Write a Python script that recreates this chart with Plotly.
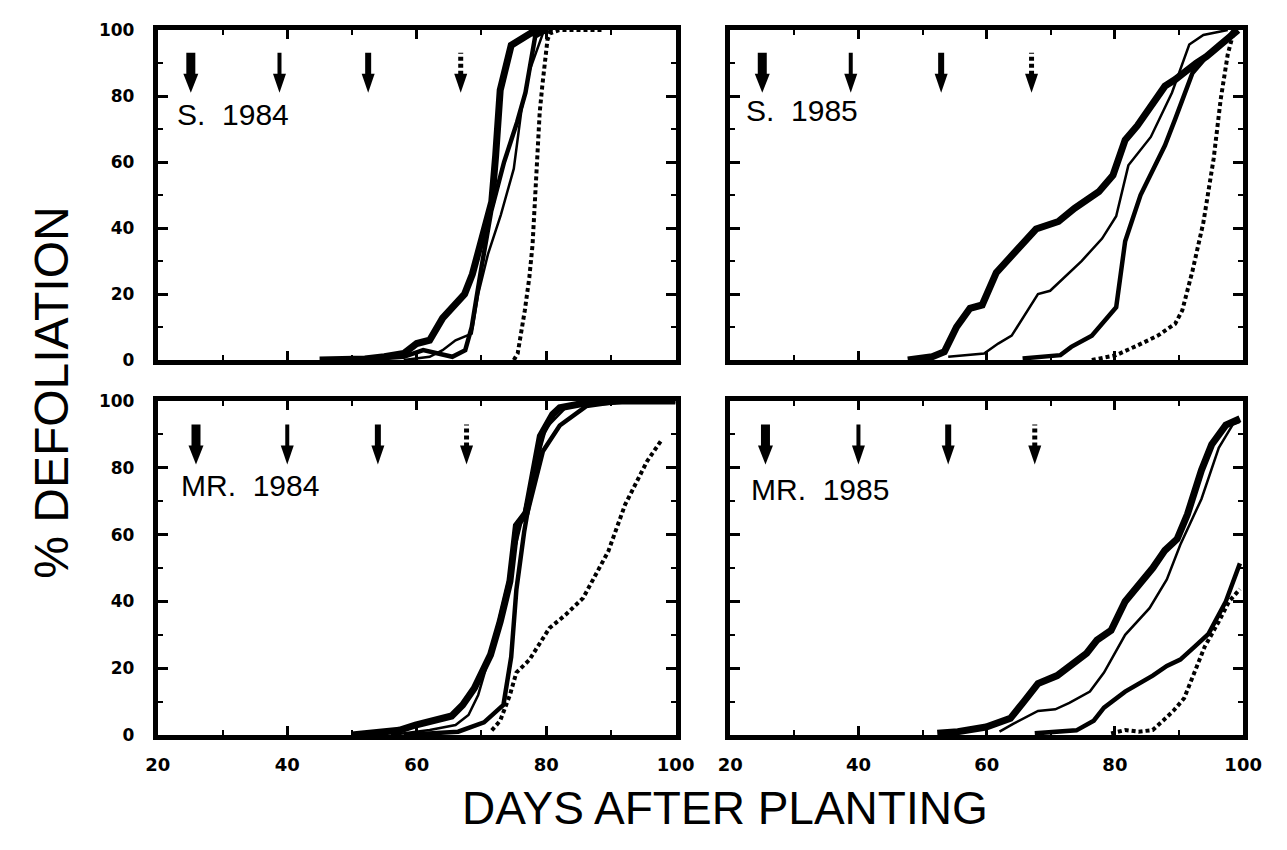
import plotly.graph_objects as go

# ---------------- data ----------------
# S. 1984
s84_thick_day = [45, 52, 55, 58, 60, 62, 64, 67.4, 68.6, 70, 71.6, 72.2, 72.9, 74.6, 77.6, 80]
s84_thick_val = [0, 0.3, 1, 2, 5, 6, 12.7, 20, 26, 36, 48, 62, 81.8, 95.4, 99, 100]
s84_med_day = [50, 58, 61, 63, 65.5, 67.5, 68.5, 70, 71.5, 73.5, 75.5, 76.8, 78.3, 80]
s84_med_val = [0, 1, 3, 2, 1, 3, 10, 28, 45, 60, 72, 81, 98, 100]
s84_thin_day = [58, 62, 64, 66, 68.5, 69.5, 71, 73, 75, 76.2, 77.5, 79.5, 81]
s84_thin_val = [0, 1, 3, 6, 8, 20, 32, 44, 58, 76, 88, 99, 100]
s84_dot_day = [75, 75.6, 76.7, 77.4, 77.9, 78.3, 78.6, 79, 79.4, 80.2, 80.6, 82, 85, 89]
s84_dot_val = [0, 2, 15, 25, 35, 50, 64, 75, 83, 97, 99, 100, 100, 100]

# S. 1985
s85_thick_day = [47.7, 51.5, 53.4, 55.3, 57.4, 59.3, 61.5, 62.8, 67.7, 71.2, 73.7, 77.5, 79.7,
                 81.6, 83.5, 87.8, 89.4, 92.7, 94.3, 96.5, 99.2]
s85_thick_val = [0, 1, 2.5, 10, 15.7, 16.7, 26.5, 29.4, 39.7, 42, 46, 51, 56,
                 66.7, 71, 83, 85, 90, 92, 95.6, 100]
s85_med_day = [65.6, 71.5, 73.2, 76.4, 80.2, 81.6, 84, 87.8, 89.4, 92.1, 94.3, 97.6, 98.6]
s85_med_val = [0.5, 1.5, 4, 7.4, 16, 36, 50, 65, 73, 87, 92, 97.5, 100]
s85_thin_day = [54, 59.6, 61.8, 63.9, 68, 69.9, 74.8, 78, 80.2, 82.1, 85.6, 88.9, 91.6, 93.8, 97.6]
s85_thin_val = [1, 2, 5, 7.4, 20, 21, 30, 36.8, 43.6, 59, 67.6, 81, 95.6, 98.5, 100]
s85_dot_day = [76.4, 80.2, 83.5, 86.7, 89.4, 90.5, 92.1, 93.8, 95.4, 96.5, 97.6, 98.6]
s85_dot_val = [0, 1.5, 4.4, 7.4, 11, 15, 27, 41.7, 61, 79, 92.6, 100]

# MR. 1984
mr84_thick_day = [50, 57.3, 59.8, 65.4, 67.1, 68.9, 71.4, 72.9, 74.4, 75.4, 76.9, 79.1, 81, 82.1, 86.2, 91.7, 100]
mr84_thick_val = [0, 1.4, 3, 5.7, 9, 14, 24, 34, 46, 62.7, 66.5, 89.5, 96, 98, 99.5, 100, 100]
mr84_med_day = [58, 64, 66.4, 70.4, 73.4, 74.6, 75.4, 76.6, 77.1, 79.5, 82.1, 86.2, 91.7, 100]
mr84_med_val = [0, 0.5, 1, 3.8, 9, 23.4, 43.5, 60.8, 66.5, 85, 92.7, 98.5, 100, 100]
mr84_thin_day = [56, 62, 66, 68, 69.5, 71, 72.5, 74, 75.2, 76.2, 78, 80, 83, 88]
mr84_thin_val = [0, 1.5, 3, 6, 12, 22, 33, 45, 56, 64, 78, 92, 98, 100]
mr84_dot_day = [71.6, 72.9, 74.4, 75.4, 77.4, 80.5, 83, 85.7, 89.6, 92.2, 95.6, 97.7]
mr84_dot_val = [1.4, 4.3, 12, 18.7, 22.5, 32, 36, 41, 55, 69, 82, 88]

# MR. 1985
mr85_thick_day = [52.3, 55.5, 59.9, 63.7, 65.8, 68, 71, 74, 75.6, 77.2, 79.4, 81.6, 83.7, 85.9,
                  87.8, 89.7, 91.3, 93.5, 95.1, 97.3, 99.5]
mr85_thick_val = [0.5, 1, 2.4, 5, 10, 15.4, 17.8, 22.6, 24.5, 28.4, 31.3, 40, 44.7, 50,
                  55.3, 58.7, 66, 79.3, 87, 92.8, 94.7]
mr85_med_day = [67.5, 74, 76.7, 78.3, 81.6, 85.9, 88.1, 90.2, 92.4, 94.6, 97.3, 99.5]
mr85_med_val = [0.5, 1.4, 4.3, 8.2, 13, 17.8, 20.7, 22.6, 26.4, 30.3, 40, 51.4]
mr85_thin_day = [62, 64.2, 68, 70.7, 72.9, 76.1, 78.3, 81.6, 85.4, 88.1, 90.2, 93.5, 96.2, 98.4, 99.5]
mr85_thin_val = [1, 3.4, 7.2, 7.7, 9.6, 13, 18.7, 30, 38, 46.6, 57, 70.7, 86, 93, 93.8]
mr85_dot_day = [79.4, 81.6, 83.7, 85.9, 87.5, 89.1, 90.8, 92.4, 94, 96.2, 97.8, 99.5]
mr85_dot_val = [0.5, 1.5, 1, 1.5, 4.3, 7.2, 11, 18.7, 26.4, 34, 40, 43.7]

# arrow (application) days per panel: thick, thin, medium, dotted
s84_arrows = [25.1, 38.8, 52.5, 66.8]
s85_arrows = [25.0, 38.8, 52.9, 67.0]
mr84_arrows = [25.9, 40.0, 54.0, 67.7]
mr85_arrows = [25.5, 40.0, 54.0, 67.5]

panel_labels = ["S.\u00a0 1984", "S.\u00a0 1985", "MR.\u00a0 1984", "MR.\u00a0 1985"]
x_ticks = [20, 40, 60, 80, 100]
y_ticks = [0, 20, 40, 60, 80, 100]

# ---------------- figure ----------------
W, H = 1287, 850
fig = go.Figure()

LEFT_X = (148.5 / W, 679.5 / W)
RIGHT_X = (735.5 / W, 1261.5 / W)
TOP_Y = (1 - 358.5 / H, 1 - 20.5 / H)
BOT_Y = (1 - 742.5 / H, 1 - 400.5 / H)

panels = [
    dict(ax="", lab=panel_labels[0], arrows=s84_arrows,
         series=[(s84_thick_day, s84_thick_val, "thick"), (s84_med_day, s84_med_val, "med"),
                 (s84_thin_day, s84_thin_val, "thin"), (s84_dot_day, s84_dot_val, "dot")],
         xd=LEFT_X, yd=TOP_Y, lx=0.033, ly=0.744),
    dict(ax="2", lab=panel_labels[1], arrows=s85_arrows,
         series=[(s85_thick_day, s85_thick_val, "thick"), (s85_med_day, s85_med_val, "med"),
                 (s85_thin_day, s85_thin_val, "thin"), (s85_dot_day, s85_dot_val, "dot")],
         xd=RIGHT_X, yd=TOP_Y, lx=0.026, ly=0.755),
    dict(ax="3", lab=panel_labels[2], arrows=mr84_arrows,
         series=[(mr84_thick_day, mr84_thick_val, "thick"), (mr84_med_day, mr84_med_val, "med"),
                 (mr84_thin_day, mr84_thin_val, "thin"), (mr84_dot_day, mr84_dot_val, "dot")],
         xd=LEFT_X, yd=BOT_Y, lx=0.0405, ly=0.746),
    dict(ax="4", lab=panel_labels[3], arrows=mr85_arrows,
         series=[(mr85_thick_day, mr85_thick_val, "thick"), (mr85_med_day, mr85_med_val, "med"),
                 (mr85_thin_day, mr85_thin_val, "thin"), (mr85_dot_day, mr85_dot_val, "dot")],
         xd=RIGHT_X, yd=BOT_Y, lx=0.037, ly=0.736),
]

line_styles = {
    "thick": dict(color="black", width=7),
    "med": dict(color="black", width=4.5),
    "thin": dict(color="black", width=2.5),
    "dot": dict(color="black", width=4, dash="4px,3px"),
}

tick_font_y = dict(family="DejaVu Sans", size=17, color="black", weight="bold")
tick_font_x = dict(family="DejaVu Sans", size=18, color="black", weight="bold")

# arrow styles: (shaft half-width px, head half-width px, dotted?)
arrow_styles = [(4.5, 7.5, False), (2.0, 6.5, False), (3.0, 6.5, False), (2.5, 6.5, True)]
ARROW_TIP = 81
HEAD_LEN = 19
ARROW_LEN = 40

layout = dict(width=W, height=H, margin=dict(l=0, r=0, t=0, b=0), autosize=False,
              paper_bgcolor="white", plot_bgcolor="white", showlegend=False)
shapes = []
annotations = []

for i, p in enumerate(panels):
    xa = "x" + p["ax"]
    ya = "y" + p["ax"]
    for d, v, st in p["series"]:
        fig.add_trace(go.Scatter(x=d, y=v, mode="lines", line=line_styles[st],
                                 xaxis=xa, yaxis=ya, hoverinfo="skip"))
    bottom = i >= 2
    left = i % 2 == 0
    layout["xaxis" + p["ax"]] = dict(
        domain=list(p["xd"]), range=[20, 100], anchor=ya, tickvals=x_ticks,
        showticklabels=bottom, ticks="inside", ticklen=9, tickwidth=3, tickcolor="black",
        minor=dict(dtick=10, ticks="inside", ticklen=5, tickwidth=2, tickcolor="black"),
        showline=True, linewidth=5, linecolor="black", mirror="ticks",
        showgrid=False, zeroline=False, tickfont=tick_font_x, ticklabelstandoff=9)
    layout["yaxis" + p["ax"]] = dict(
        domain=list(p["yd"]), range=[0, 100], anchor=xa, tickvals=y_ticks,
        showticklabels=left, ticks="inside", ticklen=10, tickwidth=3, tickcolor="black",
        minor=dict(dtick=10, ticks="inside", ticklen=5, tickwidth=2, tickcolor="black"),
        showline=True, linewidth=5, linecolor="black", mirror="ticks",
        showgrid=False, zeroline=False, tickfont=tick_font_y, ticklabelstandoff=15)
    # arrows
    for day, (sw, hw, dotted) in zip(p["arrows"], arrow_styles):
        head = f"M 0 0 L {-hw} {HEAD_LEN} L {hw} {HEAD_LEN} Z"
        shapes.append(dict(type="path", xref=xa, yref=ya, xsizemode="pixel", ysizemode="pixel",
                           xanchor=day, yanchor=ARROW_TIP, path=head,
                           fillcolor="black", line=dict(width=0)))
        if dotted:
            shapes.append(dict(type="line", xref=xa, yref=ya, xsizemode="pixel", ysizemode="pixel",
                               xanchor=day, yanchor=ARROW_TIP, x0=0, x1=0,
                               y0=HEAD_LEN - 1, y1=ARROW_LEN,
                               line=dict(color="black", width=2 * sw, dash="4px,3px")))
        else:
            shaft = (f"M {-sw} {HEAD_LEN - 1} L {sw} {HEAD_LEN - 1} L {sw} {ARROW_LEN} "
                     f"L {-sw} {ARROW_LEN} Z")
            shapes.append(dict(type="path", xref=xa, yref=ya, xsizemode="pixel", ysizemode="pixel",
                               xanchor=day, yanchor=ARROW_TIP, path=shaft,
                               fillcolor="black", line=dict(width=0)))
    annotations.append(dict(text=p["lab"], xref=xa + " domain", yref=ya + " domain",
                            x=p["lx"], y=p["ly"], xanchor="left", yanchor="middle",
                            showarrow=False,
                            font=dict(family="Liberation Sans", size=30, color="black")))

annotations.append(dict(text="% DEFOLIATION", xref="paper", yref="paper", x=40 / W, y=1 - 392 / H,
                        textangle=-90, showarrow=False, xanchor="center", yanchor="middle",
                        font=dict(family="Liberation Sans", size=48, color="black")))
annotations.append(dict(text="DAYS AFTER PLANTING", xref="paper", yref="paper", x=730 / W, y=1 - 817 / H,
                        showarrow=False, xanchor="center", yanchor="middle",
                        font=dict(family="Liberation Sans", size=46, color="black")))

layout["shapes"] = shapes
layout["annotations"] = annotations
fig.update_layout(**layout)
fig.write_html("out.html", post_script="document.body.style.margin='0';")
